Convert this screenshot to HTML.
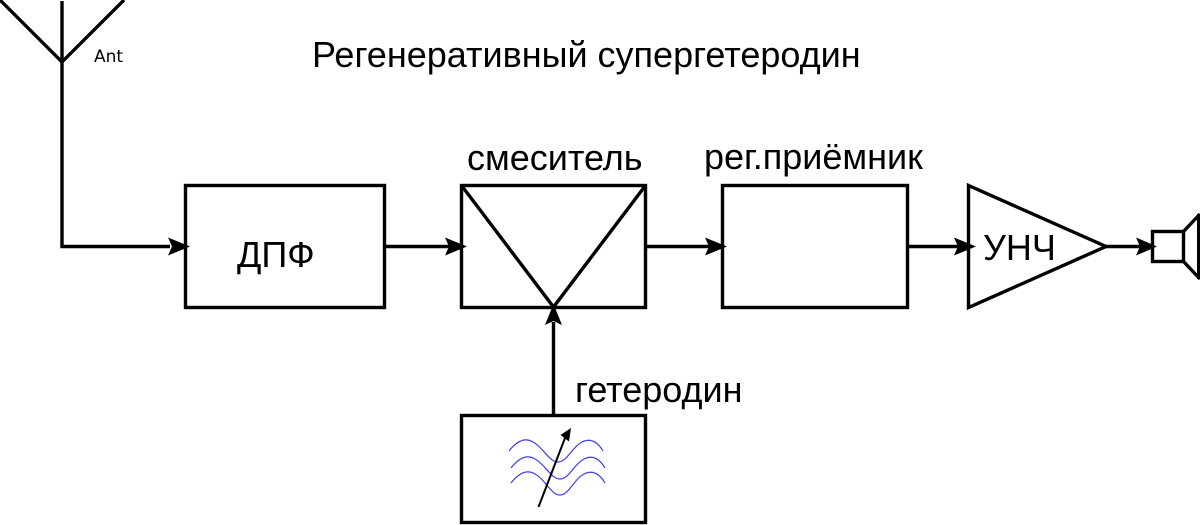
<!DOCTYPE html>
<html><head><meta charset="utf-8"><style>
html,body{margin:0;padding:0;background:#fff;width:1200px;height:525px;overflow:hidden}
svg{display:block}
text{font-family:"Liberation Sans","Noto Sans CJK SC",sans-serif;fill:#000}
</style></head><body>
<svg width="1200" height="525" viewBox="0 0 1200 525" xmlns="http://www.w3.org/2000/svg">
<g fill="none" stroke="#000" stroke-width="3.4">
<path d="M62 1V246.500H170"/>
<path d="M0 0L62 62L124 0"/>
<rect x="185.500" y="185.500" width="199" height="122"/>
<rect x="461.500" y="185.500" width="184" height="122"/>
<path d="M461.500 185.500L553.500 307L645.500 185.500"/>
<path d="M385 246.500H450M646 246.500H710M908 246.500H960M1106 246.500H1140"/>
<rect x="722.500" y="185.500" width="185" height="122"/>
<path d="M968.500 185.500V307.500L1106 246.500Z"/>
<path d="M553.500 415V322"/>
<rect x="461.500" y="415.500" width="184" height="107"/>
</g>
<g fill="#000">
<path d="M190 246.500L168 237.500L172 246.500L168 255.500Z"/>
<path d="M467 246.500L445 237.500L449 246.500L445 255.500Z"/>
<path d="M727 246.500L705 237.500L709 246.500L705 255.500Z"/>
<path d="M976 246.500L954 237.500L958 246.500L954 255.500Z"/>
<path d="M1157 246.500L1136 237.500L1140 246.500L1136 255.500Z"/>
<path d="M553.500 304L545 325L553.500 321L562 325Z"/>
</g>
<g fill="none" stroke="#000" stroke-width="3.4">
<rect x="1152.500" y="231.500" width="31" height="30"/>
<path d="M1183.500 231.500L1200 214M1183.500 261.500L1200 279"/>
</g>
<path d="M1199 214V279" stroke="#000" stroke-width="4" fill="none"/>
<g fill="none" stroke="#3c3cf0" stroke-width="1.2">
<path d="M509 451C520 437 528 439 533 442C543 447 549 462 558 462C567 462 572 447 582 442C590 438 597 441 603 451"/>
<path d="M511 468C522 454 530 456 535 459C545 464 551 479 560 479C569 479 574 464 584 459C592 455 599 458 605 468"/>
<path d="M511 483C522 469 530 471 535 474C545 479 551 495 560 495C569 495 574 479 584 474C592 470 599 473 605 483"/>
</g>
<path d="M538.500 507L565 438" stroke="#000" stroke-width="2" fill="none"/>
<path d="M571 428L560.500 435L569 441.500Z" fill="#000"/>
<text x="312" y="67" font-size="36">Регенеративный супергетеродин</text>
<text x="467" y="170" font-size="36">смеситель</text>
<text x="704" y="169" font-size="36">рег.приёмник</text>
<text x="237" y="267" font-size="36">ДПФ</text>
<text x="983" y="260" font-size="36">УНЧ</text>
<text x="575" y="402" font-size="36">гетеродин</text>
<text x="94" y="62" font-size="17" style="font-family:'DejaVu Sans',sans-serif">Ant</text>
</svg>
</body></html>
